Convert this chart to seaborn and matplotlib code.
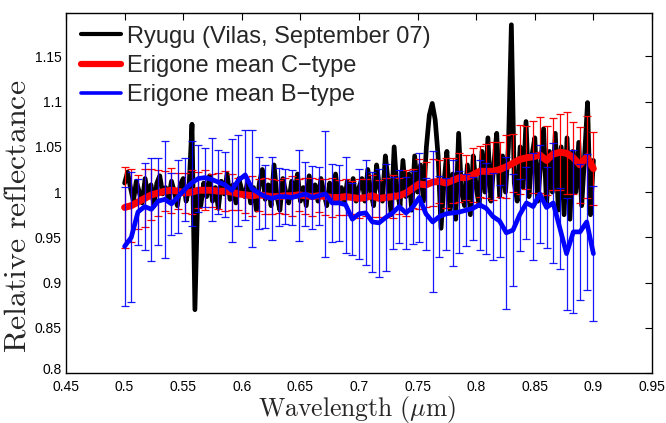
import numpy as np
import pandas as pd
import matplotlib
matplotlib.use("Agg")
import matplotlib.pyplot as plt
import matplotlib.transforms as mtransforms
import seaborn as sns

# ---------------- data ----------------
ryugu_start = 0.5
ryugu_step = 0.0025
ryugu_refl = [
    1.010, 1.022, 1.005, 0.990, 1.012, 1.000, 0.988, 1.015, 0.995, 1.008,
    0.985, 1.010, 1.018, 0.998, 1.005, 0.992, 1.012, 1.000, 0.985, 1.008, 1.015,
    0.990, 1.005, 1.075, 0.870, 1.000,
    0.985, 1.010, 0.995, 1.018, 0.990, 1.005, 0.982, 1.012, 0.998, 1.020,
    0.992, 1.008, 0.988, 1.015, 1.002,
    0.995, 1.012, 0.988, 1.005, 0.980, 1.010, 1.025, 0.992, 1.008, 0.985,
    1.030, 0.995, 0.980, 1.015, 1.000, 0.988, 1.012, 0.995, 1.020, 0.990,
    1.005, 0.985, 1.018, 0.998, 1.008, 0.990, 1.015, 1.000, 0.985, 1.010,
    0.995, 1.020, 0.992, 1.005, 0.988, 1.012, 0.998, 1.015, 0.990, 1.005,
    1.015, 0.990, 1.025, 1.000, 0.985, 1.030, 1.005, 0.990, 1.040, 1.010,
    0.975, 1.050, 1.000, 0.985, 1.035, 0.995, 1.020, 0.980, 1.040, 1.000,
    1.030, 0.990, 1.050, 1.085, 1.098, 1.080, 1.040, 0.960, 1.010, 1.045,
    0.980, 1.020, 0.970, 1.065, 1.000, 0.985, 1.030, 0.975, 1.040, 1.005,
    0.985, 1.045, 1.000, 1.060, 0.990, 1.030, 1.065, 0.995, 1.040, 1.000,
    1.050, 1.185, 1.010,
    0.990, 1.050, 1.005, 1.078, 0.995, 1.040, 1.060, 0.990, 1.030, 1.070,
    0.985, 1.045, 1.000, 1.065, 0.980, 1.050, 0.975,
    1.060, 0.970, 1.045, 1.000, 1.055, 0.985, 1.040, 1.099, 0.975, 1.035,
]

mean_wl = [
    0.5000, 0.5057, 0.5114, 0.5171, 0.5229, 0.5286, 0.5343, 0.5400, 0.5457, 0.5514,
    0.5571, 0.5629, 0.5686, 0.5743, 0.5800, 0.5857, 0.5914, 0.5971, 0.6029, 0.6086,
    0.6143, 0.6200, 0.6257, 0.6314, 0.6371, 0.6429, 0.6486, 0.6543, 0.6600, 0.6657,
    0.6714, 0.6771, 0.6829, 0.6886, 0.6943, 0.7000, 0.7057, 0.7114, 0.7171, 0.7229,
    0.7286, 0.7343, 0.7400, 0.7457, 0.7514, 0.7571, 0.7629, 0.7686, 0.7743, 0.7800,
    0.7857, 0.7914, 0.7971, 0.8029, 0.8086, 0.8143, 0.8200, 0.8257, 0.8314, 0.8371,
    0.8429, 0.8486, 0.8543, 0.8600, 0.8657, 0.8714, 0.8771, 0.8829, 0.8886, 0.8943,
    0.9000,
]

ctype_mean = [
    0.983, 0.985, 0.989, 0.993, 0.997, 0.999, 1.001, 1.002, 1.001, 0.999,
    1.000, 1.002, 1.002, 1.002, 1.001, 1.001, 1.000, 0.998, 0.997, 0.996,
    0.997, 0.996, 0.995, 0.995, 0.996, 0.996, 0.997, 0.996, 0.995, 0.996,
    0.995, 0.994, 0.994, 0.995, 0.994, 0.993, 0.994, 0.996, 0.993, 0.994,
    0.995, 0.996, 0.999, 1.004, 1.009, 1.008, 1.011, 1.012, 1.010, 1.013,
    1.016, 1.016, 1.019, 1.023, 1.023, 1.023, 1.025, 1.028, 1.032, 1.036,
    1.038, 1.039, 1.041, 1.035, 1.042, 1.044, 1.043, 1.038, 1.030, 1.039,
    1.026,
]
ctype_err = [
    0.045, 0.040, 0.030, 0.032, 0.028, 0.025, 0.022, 0.025, 0.020, 0.022,
    0.024, 0.020, 0.022, 0.018, 0.020, 0.022, 0.020, 0.018, 0.020, 0.022,
    0.018, 0.020, 0.019, 0.018, 0.020, 0.022, 0.018, 0.020, 0.021, 0.018,
    0.020, 0.022, 0.019, 0.020, 0.018, 0.022, 0.020, 0.023, 0.020, 0.022,
    0.024, 0.020, 0.025, 0.022, 0.028, 0.025, 0.026, 0.024, 0.028, 0.025,
    0.027, 0.025, 0.030, 0.028, 0.030, 0.032, 0.030, 0.035, 0.032, 0.038,
    0.035, 0.040, 0.042, 0.038, 0.040, 0.042, 0.045, 0.040, 0.042, 0.045,
    0.040,
]

btype_mean = [
    0.940, 0.950, 0.978, 0.984, 0.981, 0.990, 0.992, 0.987, 0.995, 1.003,
    1.010, 1.015, 1.016, 1.014, 1.011, 1.008, 1.002, 1.013, 1.019, 1.004,
    0.999, 0.995, 0.993, 0.995, 0.995, 0.994, 0.996, 0.998, 0.994, 0.996,
    0.998, 0.988, 0.988, 0.986, 0.970, 0.976, 0.977, 0.967, 0.966, 0.972,
    0.977, 0.984, 0.977, 0.983, 0.994, 0.976, 0.967, 0.973, 0.976, 0.977,
    0.978, 0.980, 0.982, 0.986, 0.982, 0.973, 0.968, 0.955, 0.958, 0.975,
    0.988, 0.984, 0.998, 0.983, 0.988, 0.960, 0.932, 0.956, 0.956, 0.967,
    0.932,
]
btype_err = [
    0.066, 0.072, 0.037, 0.048, 0.057, 0.048, 0.065, 0.034, 0.040, 0.035,
    0.047, 0.037, 0.033, 0.046, 0.035, 0.036, 0.057, 0.050, 0.050, 0.065,
    0.040, 0.035, 0.046, 0.032, 0.030, 0.030, 0.050, 0.035, 0.035, 0.032,
    0.070, 0.043, 0.042, 0.053, 0.040, 0.050, 0.058, 0.055, 0.060, 0.059,
    0.040, 0.040, 0.040, 0.040, 0.049, 0.040, 0.078, 0.045, 0.040, 0.059,
    0.045, 0.040, 0.035, 0.050, 0.050, 0.048, 0.040, 0.084, 0.062, 0.040,
    0.040, 0.059, 0.054, 0.045, 0.066, 0.045, 0.062, 0.090, 0.075, 0.075,
    0.075,
]

series_labels = ["Ryugu (Vilas, September 07)",
                 "Erigone mean C\u2212type",
                 "Erigone mean B\u2212type"]
x_ticks = [0.45, 0.5, 0.55, 0.6, 0.65, 0.7, 0.75, 0.8, 0.85, 0.9, 0.95]
x_ticklabels = ["0.45", "0.5", "0.55", "0.6", "0.65", "0.7", "0.75", "0.8", "0.85", "0.9", "0.95"]
y_ticks = [0.8, 0.85, 0.9, 0.95, 1.0, 1.05, 1.1, 1.15]
y_ticklabels = ["0.8", "0.85", "0.9", "0.95", "1", "1.05", "1.1", "1.15"]

# ---------------- style ----------------
sns.set_style("white")
plt.rcParams["font.family"] = ["Liberation Sans", "DejaVu Sans"]
plt.rcParams["mathtext.fontset"] = "cm"

ryugu_wl = np.round(ryugu_start + ryugu_step * np.arange(len(ryugu_refl)), 4)
df_ryugu = pd.DataFrame({"wl": ryugu_wl, "refl": ryugu_refl})
df_c = pd.DataFrame({"wl": mean_wl, "refl": ctype_mean, "err": ctype_err})
df_b = pd.DataFrame({"wl": mean_wl, "refl": btype_mean, "err": btype_err})

fig = plt.figure(figsize=(6.66, 4.23), dpi=100)
ax = fig.add_axes([66 / 666, 50 / 423, 586 / 666, 360 / 423])

sns.lineplot(data=df_ryugu, x="wl", y="refl", ax=ax, color="black", linewidth=3.4,
             sort=False, estimator=None, label=series_labels[0], zorder=2,
             solid_joinstyle="round", solid_capstyle="round")
ax.errorbar(df_c["wl"], df_c["refl"], yerr=df_c["err"], fmt="none", ecolor="#ff0000",
            elinewidth=0.9, capsize=3, capthick=0.9, zorder=3)
sns.lineplot(data=df_c, x="wl", y="refl", ax=ax, color="#ff0000", linewidth=5.0,
             sort=False, estimator=None, label=series_labels[1], zorder=4,
             solid_joinstyle="round")
ax.errorbar(df_b["wl"], df_b["refl"], yerr=df_b["err"], fmt="none", ecolor="#0000ff",
            elinewidth=0.9, capsize=3, capthick=0.9, zorder=5, alpha=0.9)
sns.lineplot(data=df_b, x="wl", y="refl", ax=ax, color="#0000ff", linewidth=3.4,
             sort=False, estimator=None, label=series_labels[2], zorder=6,
             solid_joinstyle="round")

ax.set_xlim(0.45, 0.95)
ax.set_ylim(0.8, 1.198)
ax.set_xticks(x_ticks)
ax.set_xticklabels(x_ticklabels)
ax.set_yticks(y_ticks)
ax.set_yticklabels(y_ticklabels)
ax.tick_params(direction="in", length=5, width=0.8, top=True, right=True,
               labelsize=10, colors="black")
ax.tick_params(axis="x", pad=5)
ax.tick_params(axis="y", pad=3)
for s in ax.spines.values():
    s.set_color("black")
    s.set_linewidth(1.0)

# lift the lowest y tick label slightly so it clears the first x tick label
lbl0 = ax.get_yticklabels()[0]
lbl0.set_transform(lbl0.get_transform() +
                   mtransforms.ScaledTranslation(0, 3 / 72, fig.dpi_scale_trans))

ax.set_xlabel(r"$\mathrm{Wavelength}\ (\mu\mathrm{m})$", fontsize=18.5)
ax.xaxis.set_label_coords(0.497, -0.057)
ax.set_ylabel(r"$\mathrm{Relative\ reflectance}$", fontsize=23)
ax.yaxis.set_label_coords(-0.058, 0.436)

leg = ax.legend(loc="upper left", bbox_to_anchor=(0.025, 0.965), frameon=False,
                fontsize=17, handlelength=1.7, handletextpad=0.25,
                labelspacing=0.31, borderaxespad=0, borderpad=0)
leg.get_lines()[0].set_linewidth(3.0)
leg.get_lines()[1].set_linewidth(4.5)
leg.get_lines()[2].set_linewidth(2.6)

fig.savefig("out.png", dpi=100)
